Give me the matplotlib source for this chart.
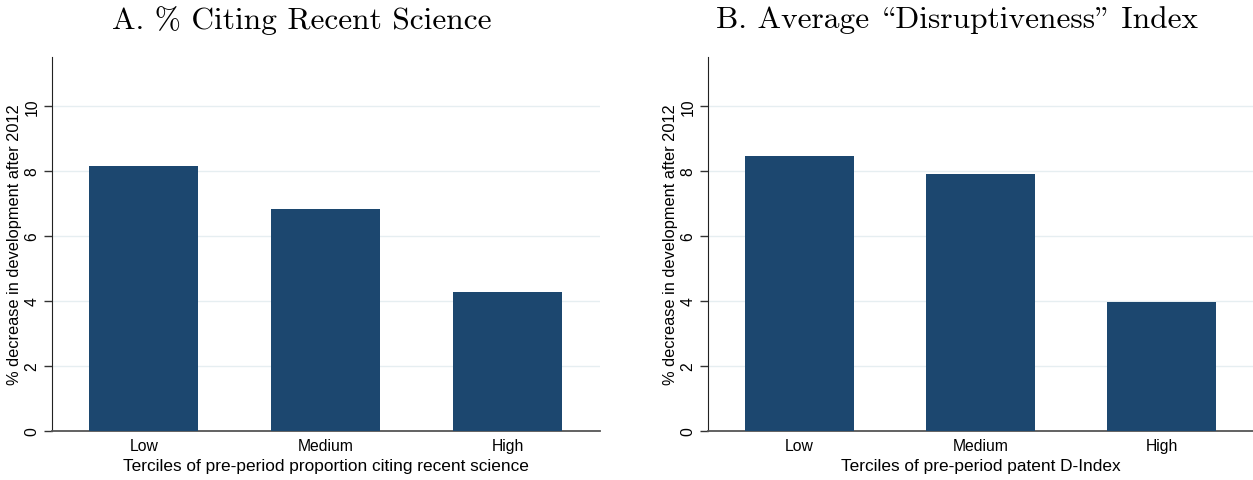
import matplotlib.pyplot as plt
import numpy as np

# terciles and % decrease values
terciles = ["Low", "Medium", "High"]
recent_science = [8.14, 6.84, 4.29]
d_index = [8.47, 7.92, 3.96]

# cmr10 uses the TeX OT1 layout: "\" slot is the opening quote, '"' the closing one
titles = ["A. % Citing Recent Science", "B. Average \\Disruptiveness\" Index"]
xlabels = ["Terciles of pre-period proportion citing recent science",
           "Terciles of pre-period patent D-Index"]
ylabel = "% decrease in development after 2012"

navy = "#1c476f"
sans = "Liberation Sans"

fig = plt.figure(figsize=(12.53, 4.81), dpi=100)
ax1 = fig.add_axes([0.0415, 0.102, 0.437, 0.777])
ax2 = fig.add_axes([0.565, 0.102, 0.435, 0.777])

for ax, vals, xl in zip([ax1, ax2], [recent_science, d_index], xlabels):
    x = np.arange(len(terciles))
    ax.bar(x, vals, width=0.6, color=navy, zorder=3)
    ax.set_xlim(-0.505, 2.505)
    ax.set_ylim(0, 11.5)
    ax.set_yticks([0, 2, 4, 6, 8, 10])
    ax.set_xticks(x)
    ax.set_xticklabels(terciles, fontfamily=sans, fontsize=11.3)
    for lab in ax.get_yticklabels():
        lab.set_rotation(90)
        lab.set_va("center")
        lab.set_fontfamily(sans)
        lab.set_fontsize(11.3)
    ax.tick_params(axis="x", length=0, pad=5)
    ax.tick_params(axis="y", length=6, width=1, color="#333333", pad=3)
    ax.grid(axis="y", color="#e6eef1", linewidth=1, zorder=0)
    for s in ["top", "right"]:
        ax.spines[s].set_visible(False)
    ax.spines["left"].set_color("#222222")
    ax.spines["bottom"].set_color("#555555")
    ax.spines["bottom"].set_linewidth(1.3)
    ax.set_xlabel(xl, fontfamily=sans, fontsize=12.4, labelpad=4)
    ax.set_ylabel(ylabel, fontfamily=sans, fontsize=11.8, labelpad=2)

for xpos, t in zip([0.241, 0.764], titles):
    fig.text(xpos, 0.958, t, ha="center", va="center",
             fontfamily="cmr10", fontsize=22.6)

fig.savefig("out.png", dpi=100)
